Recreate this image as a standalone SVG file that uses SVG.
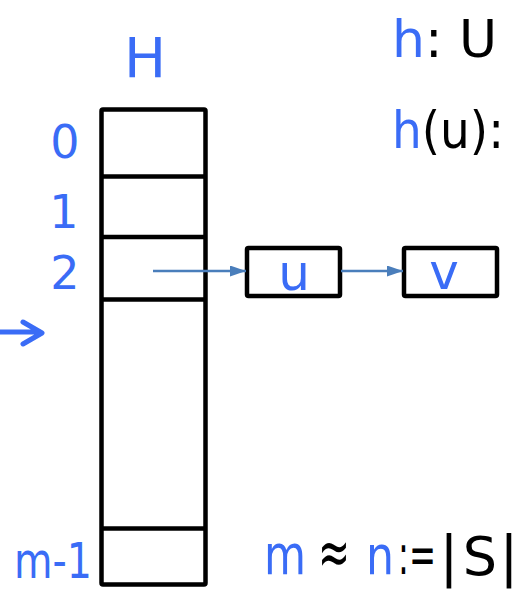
<svg xmlns="http://www.w3.org/2000/svg" width="519" height="591" viewBox="0 0 519 591">
<style>
.blue{fill:#3a6cf6}
.blk{fill:#000}
text{font-family:"DejaVu Sans","Liberation Sans",sans-serif}
.c{text-anchor:middle}
.box{fill:#fff;stroke:#000;stroke-width:4.5;stroke-linejoin:round}
.div{stroke:#000;stroke-width:4.5}
.conn{stroke:#4a7ebb;stroke-width:2.5;fill:none}
</style>
<defs>
<marker id="tri" viewBox="0 0 16 11" refX="16" refY="5.5" markerWidth="16" markerHeight="11" orient="auto" markerUnits="userSpaceOnUse">
<path d="M0,0 L16,5.5 L0,11 Z" fill="#4a7ebb"/>
</marker>
</defs>
<g id="table">
<rect class="box" x="101.5" y="109.5" width="104" height="475" rx="1.5"/>
<line class="div" x1="101.5" y1="176.5" x2="205.5" y2="176.5"/>
<line class="div" x1="101.5" y1="237" x2="205.5" y2="237"/>
<line class="div" x1="101.5" y1="299.5" x2="205.5" y2="299.5"/>
<line class="div" x1="101.5" y1="528.5" x2="205.5" y2="528.5"/>
</g>
<g id="labels">
<text class="blue c" x="145" y="77" font-size="56">H</text>
<text class="blue c" x="65" y="158" font-size="46">0</text>
<text class="blue c" x="64" y="228" font-size="46">1</text>
<text class="blue c" x="65" y="289" font-size="46">2</text>
<text class="blue c" x="53" y="578" font-size="50" textLength="78" lengthAdjust="spacingAndGlyphs">m-1</text>
<text class="blk" x="392" y="57" font-size="52"><tspan class="blue">h</tspan>: U</text>
<text class="blk" x="392" y="148" font-size="52" textLength="112" lengthAdjust="spacingAndGlyphs"><tspan class="blue">h</tspan>(u):</text>
<text class="blue c" x="285" y="574" font-size="56" textLength="42" lengthAdjust="spacingAndGlyphs">m</text>
<text class="blk c" x="334" y="574" font-size="64" textLength="32" lengthAdjust="spacingAndGlyphs">≈</text>
<text class="blue c" x="380" y="574" font-size="54" textLength="28" lengthAdjust="spacingAndGlyphs">n</text>
<text class="blk c" x="417" y="574" font-size="56" textLength="38" lengthAdjust="spacingAndGlyphs">:=</text>
<text class="blk c" x="449" y="575" font-size="56" textLength="12" lengthAdjust="spacing">|</text>
<text class="blk c" x="480" y="575" font-size="54">S</text>
<text class="blk c" x="509" y="575" font-size="56" textLength="12" lengthAdjust="spacing">|</text>
</g>
<g id="node-u">
<rect class="box" x="247" y="248" width="93" height="48" rx="1.5"/>
<text class="blue c" x="294" y="290" font-size="50">u</text>
</g>
<g id="node-v">
<rect class="box" x="404" y="248" width="93" height="48" rx="1.5"/>
<text class="blue c" x="444" y="289" font-size="50">v</text>
</g>
<g id="connectors">
<line class="conn" x1="153" y1="271" x2="246" y2="271" marker-end="url(#tri)"/>
<line class="conn" x1="341" y1="271" x2="403" y2="271" marker-end="url(#tri)"/>
<path d="M0,332 L40,332 M23,322 L42,333 L23,344" stroke="#3a6cf6" stroke-width="5" fill="none" stroke-linecap="round" stroke-linejoin="round"/>
</g>
</svg>
